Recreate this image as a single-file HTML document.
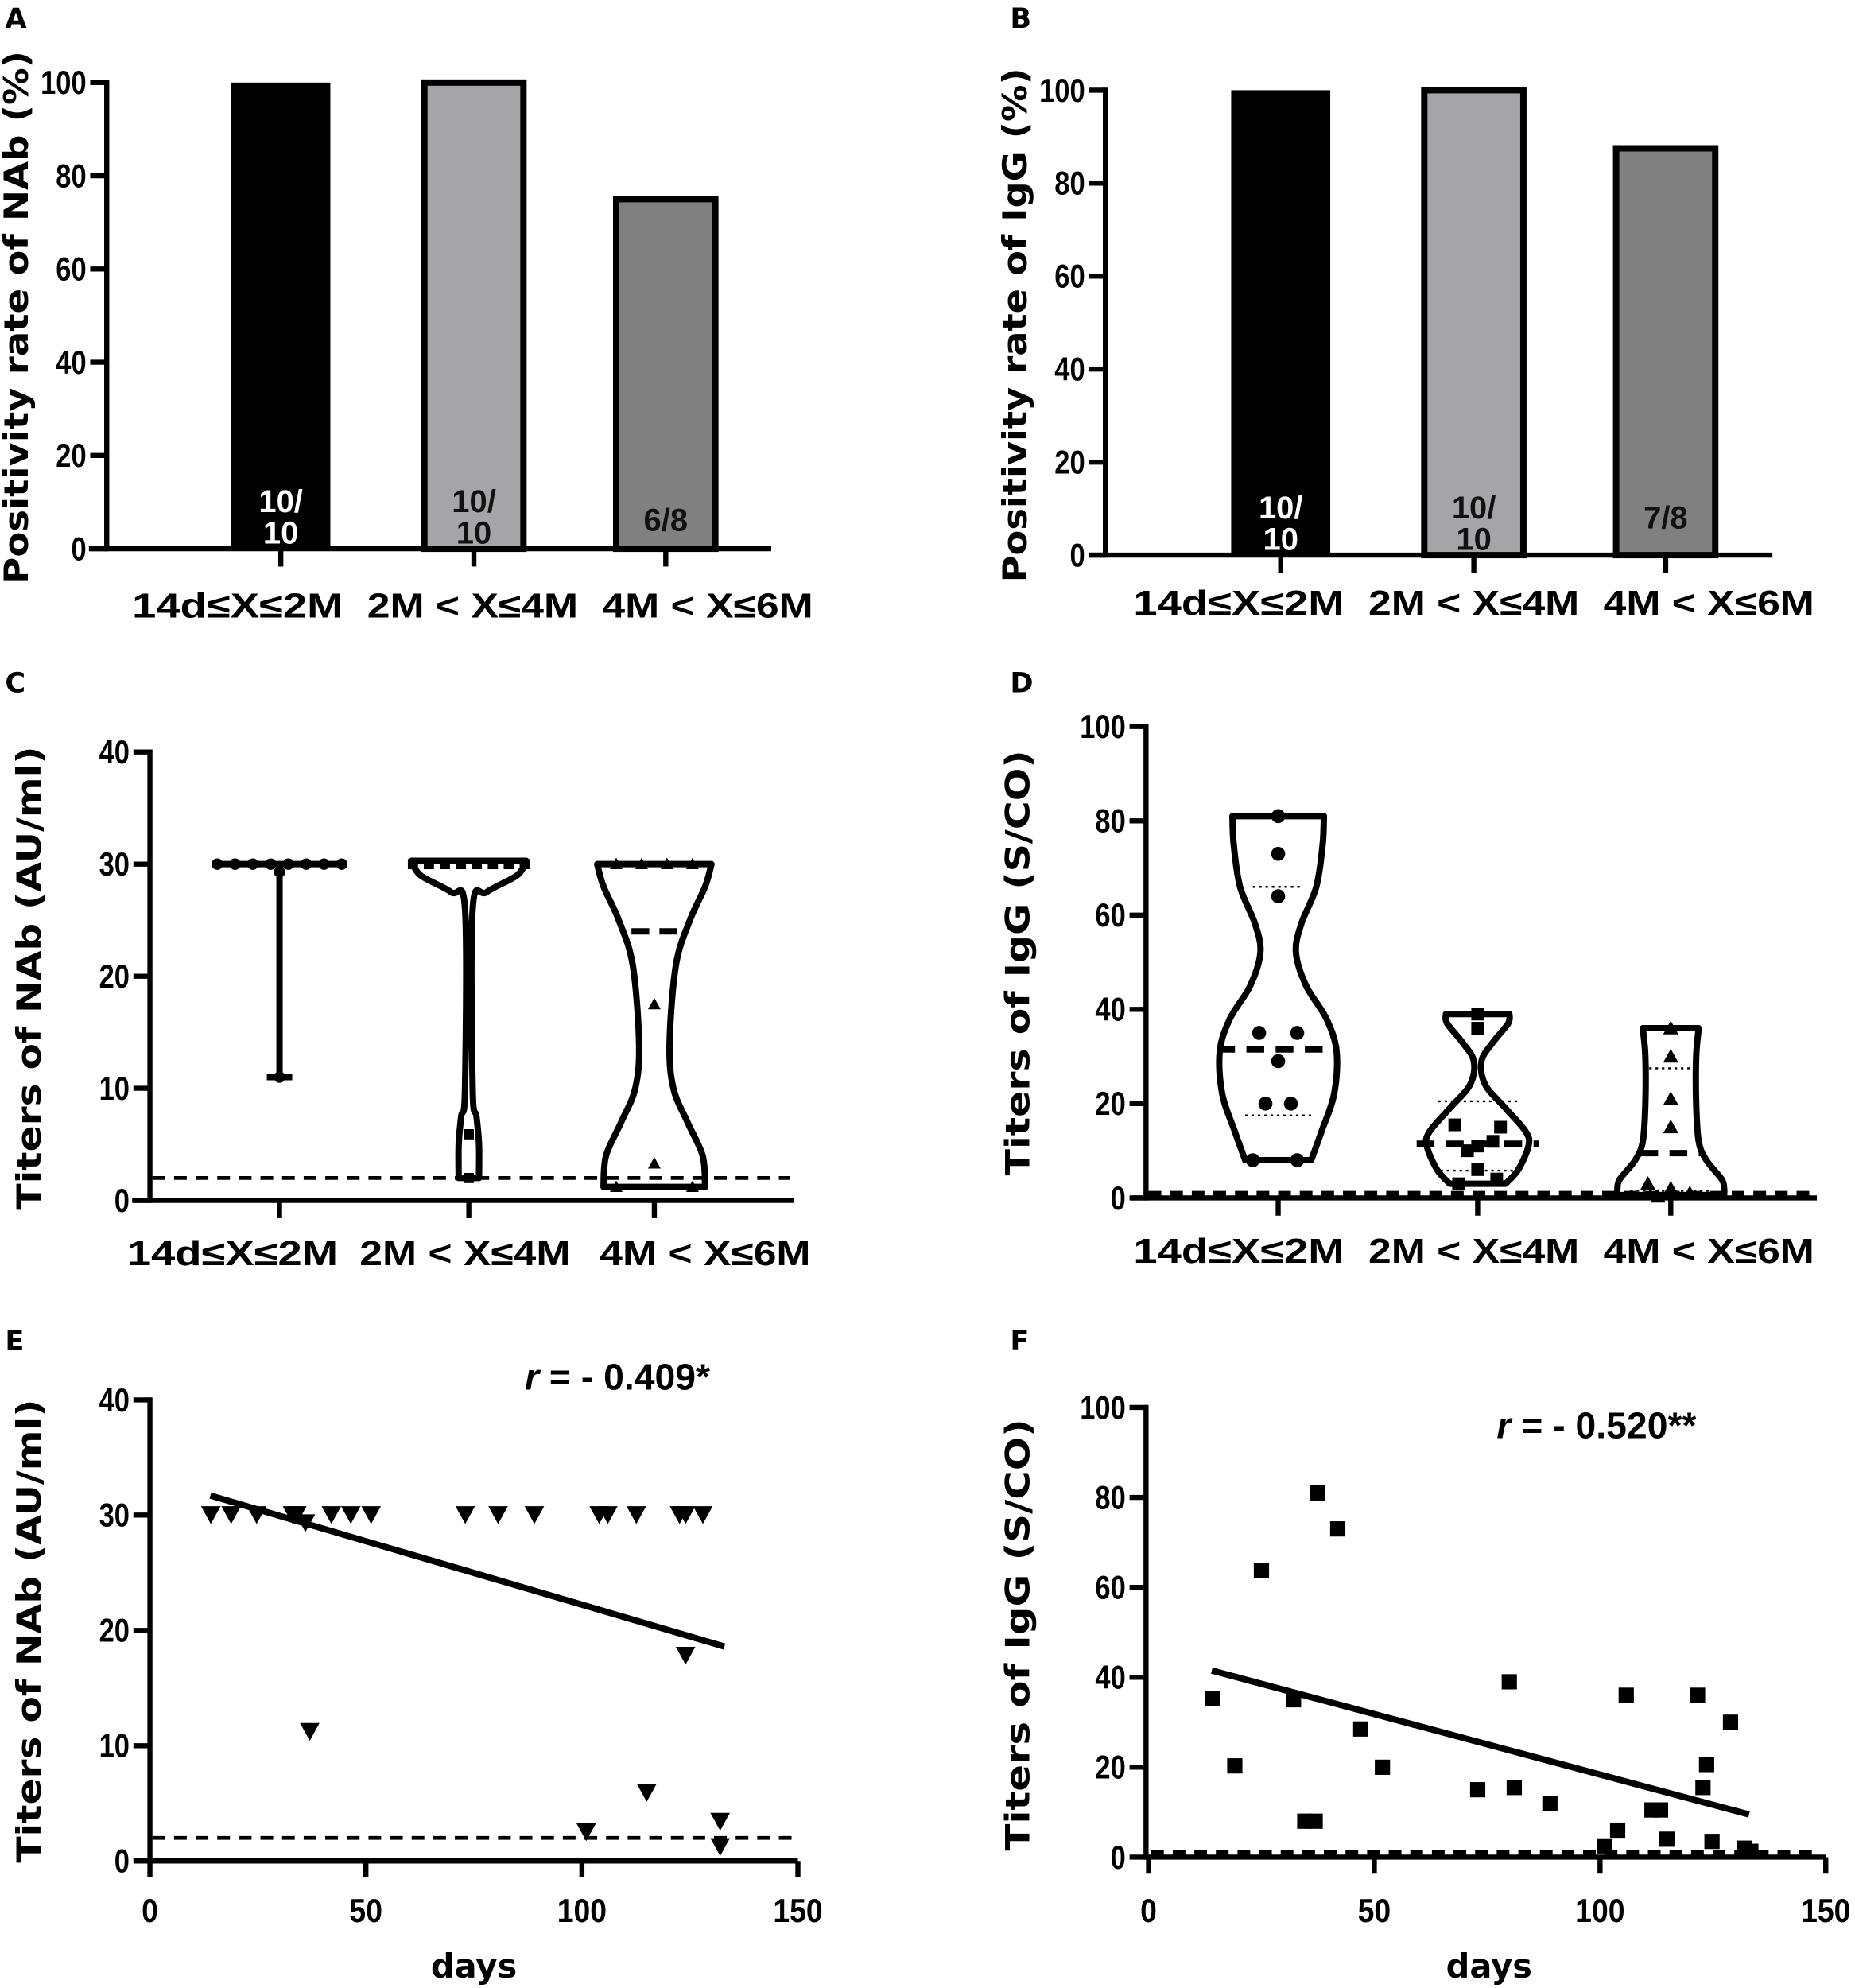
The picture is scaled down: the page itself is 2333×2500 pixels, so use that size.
<!DOCTYPE html>
<html><head><meta charset="utf-8"><style>
html,body{margin:0;padding:0;background:#fff;}
svg{display:block;}
text{font-family:"Liberation Sans","DejaVu Sans",sans-serif;font-weight:bold;fill:#000;}
.tick{font-size:26px;}
.cat{font-size:27px;}
.rl{font-size:29px;}
.ttl{font-family:"DejaVu Sans","Liberation Sans",sans-serif;font-size:26px;}
.pl{font-family:"DejaVu Sans",sans-serif;font-size:22px;}
</style></head><body>
<svg id="fig" width="2333" height="2500" viewBox="0 0 1460 1565" preserveAspectRatio="none" xmlns="http://www.w3.org/2000/svg"></svg>
<script>
// ---- data ----
const categories = ["14d≤X≤2M","2M < X≤4M","4M < X≤6M"];
const nabRate = [100, 100, 75];
const nabRateLabels = [["10/","10"],["10/","10"],["6/8"]];
const iggRate = [100, 100, 87.5];
const iggRateLabels = [["10/","10"],["10/","10"],["7/8"]];
const rateTicks = [0,20,40,60,80,100];
const nabTicks = [0,10,20,30,40];
const iggTicks = [0,20,40,60,80,100];
const dayTicks = [0,50,100,150];
// C: NAb titers per group
const nabG1 = [30,30,30,30,30,30,30,30,29.3,11];
const nabG2 = [30,30,30,30,30,30,30,30,5.9,2];
const nabG3 = [30,30,30,30,17.5,3.3,1.2,1.2];
const violinC2 = [[30.3,45],[29,38],[27.5,14],[26,3],[10,3],[7.5,6],[5,8],[2,8]];
const violinC3 = [[30,45],[28,40],[25,28],[21,17],[14,12],[10,15],[7,26],[4,38],[1.2,40]];
const nabMedians = [30,30,24];
// D: IgG titers per group
const iggG1 = [81,73,64,35,35,29,20,20,8,8];
const iggG2 = [39,36,15.5,15,12,11,10,6,4,3];
const iggG3 = [36,30,21,15,3,2,1,0.3];
const violinD1 = [[81,36],[75,35],[66,30],[58,18],[52,14],[45,22],[38,38],[31,46],[22,44],[14,34],[8,26]];
const violinD2 = [[39,25],[37,24],[33,12],[29,3],[24,6],[19,22],[14,38],[11,40],[6,32],[3,22]];
const violinD3 = [[36,22],[30,20],[20,20],[12,22],[8,28],[4,40],[2,42],[0.6,42]];
const iggMedians = [31.5,11.5,9.5];
const iggQ = [[66,17.5],[20.5,5.8],[27.5,1.5]];
// E: NAb vs days
const eDays = [14.1,18.8,24.7,33,34,42,46.5,51.2,73,80.6,89,104,106,112.6,122.6,124,128,36,37,124,115,101,132,132];
const eVals = [30,30,30,30,30,30,30,30,30,30,30,30,30,30,30,30,30,29.3,11.2,17.8,5.9,2.5,3.4,1.2];
const eFit = [[14,31.7],[133,18.6]];
// F: IgG vs days
const fDays = [14.1,19.1,25,32.1,34.6,36.9,37.4,41.9,47,51.8,72.9,79.9,81,88.9,101,103.9,105.8,111.5,113.4,114.8,121.6,122.8,123.6,124.8,128.9,132,133.4];
const fVals = [35.3,20.3,63.8,35,8,8,81,73,28.5,20,15,39,15.5,12,2.5,6,36,10.5,10.5,4,36,15.5,20.6,3.5,30,2,1.3];
const fFit = [[14,41.5],[133,9.5]];

// ---- helpers ----
const NS="http://www.w3.org/2000/svg";
const svg=document.getElementById('fig');
function el(tag,attrs,parent){const e=document.createElementNS(NS,tag);for(const k in attrs)e.setAttribute(k,attrs[k]);(parent||svg).appendChild(e);return e;}
function lin(d0,d1,r0,r1){return v=>r0+(v-d0)*(r1-r0)/(d1-d0);}
function txt(s,x,y,cls,anchor,parent){const t=el('text',{x:x,y:y,'class':cls,'text-anchor':anchor||'middle'},parent);t.textContent=s;return t;}

function yAxis(g,x,y,ticks,ytitle,tx,ty,tlen){
  const a=el('line',{x1:x,y1:y(ticks[ticks.length-1])-2,x2:x,y2:y(ticks[0])+2,stroke:'#000','stroke-width':4},g);
  
  
  ticks.forEach(v=>{
    const l=el('line',{x1:x-13,y1:y(v),x2:x,y2:y(v),stroke:'#000','stroke-width':4},g);
    
    
    const s=String(v);
    const t=el('text',{x:x-16,y:y(v)+9,'class':'tick','text-anchor':'end',textLength:s.length*12,lengthAdjust:'spacingAndGlyphs'},g);
    t.textContent=s;
    
    
  });
  const t=el('text',{x:0,y:0,'class':'ttl','text-anchor':'middle',transform:`translate(${tx},${ty}) rotate(-90)`,textLength:tlen,lengthAdjust:'spacingAndGlyphs'},g);
  t.textContent=ytitle;
  
  
}
function xCatAxis(g,x0,x1,y0,cx,labx,laby){
  const a=el('line',{x1:x0,y1:y0,x2:x1,y2:y0,stroke:'#000','stroke-width':4},g);
  
  
  categories.forEach((c,i)=>{
    const l=el('line',{x1:cx[i],y1:y0,x2:cx[i],y2:y0+14,stroke:'#000','stroke-width':4},g);
    
    
    const t=el('text',{x:labx[i],y:laby,'class':'cat','text-anchor':'middle',textLength:166,lengthAdjust:'spacingAndGlyphs'},g);
    t.textContent=c;
    
    
  });
}
function panelLabel(s,x,y){const t=txt(s,x,y,'pl','start');}

function smooth(pts){
  let d=`M${pts[0][0]},${pts[0][1]}`;
  for(let i=0;i<pts.length-1;i++){
    const p0=pts[i-1]||pts[i],p1=pts[i],p2=pts[i+1],p3=pts[i+2]||p2;
    const c1=[p1[0]+(p2[0]-p0[0])/6,p1[1]+(p2[1]-p0[1])/6];
    const c2=[p2[0]-(p3[0]-p1[0])/6,p2[1]-(p3[1]-p1[1])/6];
    d+=` C${c1[0]},${c1[1]} ${c2[0]},${c2[1]} ${p2[0]},${p2[1]}`;
  }
  return d;
}
function violin(g,cx,y,shape,name){
  const right=shape.map(s=>[cx+s[1],y(s[0])]);
  const left=shape.map(s=>[cx-s[1],y(s[0])]).reverse();
  let d=smooth(right);
  d+=` L${left[0][0]},${left[0][1]}`+smooth(left).replace(/^M[^C]*/,' ')+' Z';
  const p=el('path',{d:d,fill:'none',stroke:'#000','stroke-width':5,'stroke-linejoin':'round'},g);
  
  
}
function marker(g,type,x,y,s,name){
  let e;
  if(type==='circle') e=el('circle',{cx:x,cy:y,r:s},g);
  else if(type==='square') e=el('rect',{x:x-s,y:y-s,width:2*s,height:2*s},g);
  else if(type==='tri') e=el('polygon',{points:`${x-s},${y+s*0.8} ${x+s},${y+s*0.8} ${x},${y-s}`},g);
  else e=el('polygon',{points:`${x-s*1.1},${y-s} ${x+s*1.1},${y-s} ${x},${y+s}`},g);
  e.setAttribute('fill','#000');
  
  
}
function spread(vals,cx,width){
  const out=[];const cnt={};const idx={};
  vals.forEach(v=>cnt[v]=(cnt[v]||0)+1);
  vals.forEach(v=>{idx[v]=(idx[v]||0);const n=cnt[v];const k=idx[v]++;out.push(n===1?cx:cx-width/2+width*k/(n-1));});
  return out;
}

// ---- Panel A ----
(function(){
  const g=el('g',{});
  const y=lin(0,100,432,65);
  const cx=[221,373,524];
  const fills=['#000','#a5a5a8','#808080'];
  nabRate.forEach((v,i)=>{
    const r=el('rect',{x:cx[i]-39,y:y(v),width:78,height:y(0)-y(v),fill:fills[i],stroke:'#000','stroke-width':i?5:0},g);
    
    
    const lab=nabRateLabels[i];
    lab.forEach((s,j)=>{const t=txt(s,cx[i],lab.length>1?403+j*25:418,'cat','middle',g);t.style.fill=i===0?'#fff':'#111';t.style.fontSize='25px';});
  });
  yAxis(g,84,y,rateTicks,'Positivity rate of NAb (%)',22,250,420);
  xCatAxis(g,70,607,432,cx,[187,372,557],486);
  panelLabel('A',4,22);
})();
// ---- Panel B ----
(function(){
  const g=el('g',{});
  const y=lin(0,100,437,71);
  const cx=[1008,1160,1311];
  const fills=['#000','#a5a5a8','#808080'];
  iggRate.forEach((v,i)=>{
    const r=el('rect',{x:cx[i]-39,y:y(v),width:78,height:y(0)-y(v),fill:fills[i],stroke:'#000','stroke-width':i?5:0},g);
    
    
    const lab=iggRateLabels[i];
    lab.forEach((s,j)=>{const t=txt(s,cx[i],lab.length>1?408+j*25:416,'cat','middle',g);t.style.fill=i===0?'#fff':'#111';t.style.fontSize='25px';});
  });
  yAxis(g,870,y,rateTicks,'Positivity rate of IgG (%)',808,256,405);
  xCatAxis(g,857,1395,437,cx,[975,1160,1345],484);
  panelLabel('B',795,22);
})();
// ---- Panel C ----
(function(){
  const g=el('g',{});
  const y=lin(0,40,945,592);
  const cx=[220,369,515];
  const c=el('line',{x1:120,y1:y(2),x2:622,y2:y(2),stroke:'#000','stroke-width':3,'stroke-dasharray':'10 7'},g);
  
  const mx=Math.max(...nabG1),mn=Math.min(...nabG1);
  const v1=el('path',{d:`M${cx[0]},${y(mx)} V${y(mn)} M${cx[0]-10},${y(mn)} H${cx[0]+10} M${cx[0]-48},${y(mx)} H${cx[0]+48}`,stroke:'#000','stroke-width':5,fill:'none'},g);
  
  violin(g,cx[1],y,violinC2,'violin-group-2');
  violin(g,cx[2],y,violinC3,'violin-group-3');
  const md=el('line',{x1:cx[2]-18,y1:y(nabMedians[2]),x2:cx[2]+18,y2:y(nabMedians[2]),stroke:'#000','stroke-width':5,'stroke-dasharray':'14 8'},g);
  
  spread(nabG1,cx[0],98).forEach((x,i)=>marker(g,'circle',x,y(nabG1[i]),4.5,'point-group-1'));
  spread(nabG2,cx[1],88).forEach((x,i)=>marker(g,'square',x,y(nabG2[i]),4,'point-group-2'));
  spread(nabG3,cx[2],60).forEach((x,i)=>marker(g,'tri',x,y(nabG3[i]),5,'point-group-3'));
  yAxis(g,118,y,nabTicks,'Titers of NAb (AU/ml)',32,770,365);
  xCatAxis(g,104,625,945,cx,[183,366,555],996);
  panelLabel('C',4,545);
})();
// ---- Panel D ----
(function(){
  const g=el('g',{});
  const y=lin(0,100,943,572);
  const cx=[1006,1163,1315];
  const c=el('line',{x1:904,y1:y(0.8),x2:1430,y2:y(0.8),stroke:'#000','stroke-width':5,'stroke-dasharray':'10 7'},g);
  
  [violinD1,violinD2,violinD3].forEach((s,i)=>violin(g,cx[i],y,s,'violin-group-'+(i+1)));
  iggMedians.forEach((m,i)=>{
    const w=i===2?24:48;
    const l=el('line',{x1:cx[i]-w,y1:y(m),x2:cx[i]+w,y2:y(m),stroke:'#000','stroke-width':5,'stroke-dasharray':'14 9'},g);
    
    iggQ[i].forEach(q=>{const w=Math.max(20,40-Math.abs(q-m));const ql=el('line',{x1:cx[i]-w,y1:y(q),x2:cx[i]+w,y2:y(q),stroke:'#000','stroke-width':1.5,'stroke-dasharray':'2 3'},g);});
  });
  const off=[[0,0,0,-15,15,0,-10,10,-20,15],[0,0,-18,18,12,0,-8,0,15,-15],[0,0,0,0,-18,0,15,-10]];
  iggG1.forEach((v,i)=>marker(g,'circle',cx[0]+off[0][i],y(v),5.5,'point-group-1'));
  iggG2.forEach((v,i)=>marker(g,'square',cx[1]+off[1][i],y(v),5,'point-group-2'));
  iggG3.forEach((v,i)=>marker(g,'tri',cx[2]+off[2][i],y(v),6,'point-group-3'));
  yAxis(g,902,y,iggTicks,'Titers of IgG (S/CO)',810,758,335);
  xCatAxis(g,890,1430,943,cx,[975,1160,1345],994);
  panelLabel('D',795,545);
})();
// ---- Panel E ----
(function(){
  const g=el('g',{});
  const y=lin(0,40,1465,1102), x=lin(0,150,118,628);
  const c=el('line',{x1:120,y1:y(2),x2:626,y2:y(2),stroke:'#000','stroke-width':3,'stroke-dasharray':'10 7'},g);
  
  const f=el('line',{x1:x(eFit[0][0]),y1:y(eFit[0][1]),x2:x(eFit[1][0]),y2:y(eFit[1][1]),stroke:'#000','stroke-width':5},g);
  
  eDays.forEach((d,i)=>marker(g,'invtri',x(d),y(eVals[i]),7,'data-point'));
  yAxis(g,118,y,nabTicks,'Titers of NAb (AU/ml)',32,1284,365);
  const ax=el('line',{x1:116,y1:y(0),x2:628,y2:y(0),stroke:'#000','stroke-width':4},g);
  
  dayTicks.forEach(d=>{const l=el('line',{x1:x(d),y1:y(0),x2:x(d),y2:y(0)+13,stroke:'#000','stroke-width':4},g);const s=String(d);const t=el('text',{x:x(d),y:1513,'class':'tick','text-anchor':'middle',textLength:s.length*13,lengthAdjust:'spacingAndGlyphs'},g);t.textContent=s;});
  const xt=txt('days',373,1557,'ttl','middle',g);
  const r=el('text',{x:413,y:1094,'class':'rl','text-anchor':'start'},g);r.innerHTML='<tspan font-style="italic">r</tspan> = - 0.409*';
  
  panelLabel('E',4,1063);
})();
// ---- Panel F ----
(function(){
  const g=el('g',{});
  const y=lin(0,100,1462,1108), x=lin(0,150,904,1437);
  const c=el('line',{x1:906,y1:y(0.8),x2:1430,y2:y(0.8),stroke:'#000','stroke-width':5,'stroke-dasharray':'10 7'},g);
  
  const f=el('line',{x1:x(fFit[0][0]),y1:y(fFit[0][1]),x2:x(fFit[1][0]),y2:y(fFit[1][1]),stroke:'#000','stroke-width':5},g);
  
  fDays.forEach((d,i)=>marker(g,'square',x(d),y(fVals[i]),6,'data-point'));
  yAxis(g,902,y,iggTicks,'Titers of IgG (S/CO)',810,1287,340);
  const ax=el('line',{x1:900,y1:y(0),x2:1437,y2:y(0),stroke:'#000','stroke-width':4},g);
  
  dayTicks.forEach(d=>{const l=el('line',{x1:x(d),y1:y(0),x2:x(d),y2:y(0)+13,stroke:'#000','stroke-width':4},g);const s=String(d);const t=el('text',{x:x(d),y:1513,'class':'tick','text-anchor':'middle',textLength:s.length*13,lengthAdjust:'spacingAndGlyphs'},g);t.textContent=s;});
  const xt=txt('days',1172,1557,'ttl','middle',g);
  const r=el('text',{x:1178,y:1132,'class':'rl','text-anchor':'start'},g);r.innerHTML='<tspan font-style="italic">r</tspan> = - 0.520**';
  
  panelLabel('F',795,1063);
})();
</script>
</body></html>
